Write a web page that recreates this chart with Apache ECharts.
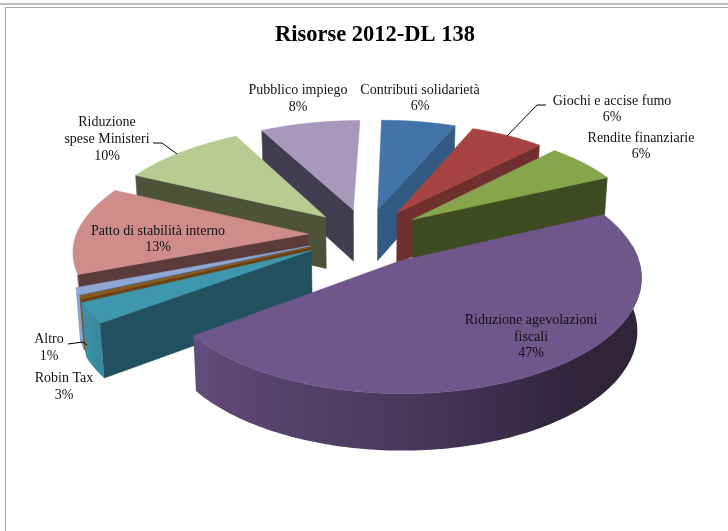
<!DOCTYPE html>
<html>
<head>
<meta charset="utf-8">
<style>html,body{margin:0;padding:0;background:#fff}#chart{width:728px;height:531px}</style>
<script src="https://cdn.jsdelivr.net/npm/echarts@6/dist/echarts.min.js"></script>
</head>
<body>
<div id="chart"></div>
<script>
// Slices run clockwise from twelve o'clock.
const categories = ['Contributi solidarietà', 'Giochi e accise fumo', 'Rendite finanziarie',
  'Riduzione agevolazioni fiscali', 'Robin Tax', '', 'Altro', 'Patto di stabilità interno',
  'Riduzione spese Ministeri', 'Pubblico impiego'];
const shares = [6, 6, 6, 47, 3, 0.4, 1, 13, 10, 8];
const explosions = [0.25, 0.25, 0.25, 0.275, 0.27, 0.26, 0.26, 0.25, 0.25, 0.25];
const topColors = ['#4273a9', '#a54442', '#87a54c', '#6f568b', '#3f97ae', '#8a5a20', '#8ea7d4', '#ce8d8b', '#b7cc93', '#a898bb'];
const wallColors = ['#335a82', '#6f2f2e', '#3e4a20', '#4a3a5e', '#22505f', '#6b3f14', '#4f5f80', '#5b3a3a', '#4d5339', '#423c50'];

// Projection of the tilted pie onto the page.
const view = { cx: 366, cy: 235, rx: 232, ry: 107, perspX: 0.13, perspBack: 0.13, perspFront: 0.135, shearBack: 5, shearFront: 2, depth: 52 };
const total = shares.reduce((a, b) => a + b, 0);

const slices = [];
let running = 0;
shares.forEach((v, i) => {
  const a0 = running / total * 2 * Math.PI;
  running += v;
  const a1 = running / total * 2 * Math.PI;
  slices.push({ i, a0, a1, mid: (a0 + a1) / 2, e: explosions[i] });
});

function project(X, Y, lowered) {
  const sx = 1 / (1 - view.perspX * Y);
  const sy = 1 / (1 - (Y < 0 ? view.perspBack : view.perspFront) * Y);
  const shear = Y < 0 ? view.shearBack : view.shearFront;
  let x = view.cx - shear * Y + view.rx * X * sx;
  let y = view.cy + view.ry * Y * sy;
  if (lowered) {
    x = view.cx + (x - view.cx) * 0.985;
    y += view.depth * Math.sqrt(sy);
  }
  return [x, y];
}

function rimPoint(s, a, lowered) {
  const X = s.e * Math.sin(s.mid) + Math.sin(a);
  const Y = -s.e * Math.cos(s.mid) - Math.cos(a);
  return project(X, Y, lowered);
}

function apexPoint(s, lowered) {
  return project(s.e * Math.sin(s.mid), -s.e * Math.cos(s.mid), lowered);
}

// Brightness of the curved wall depending on which way it faces.
function rimShade(a) {
  const d = a * 180 / Math.PI;
  const stops = [[60, 0.42], [140, 0.42], [180, 0.66], [225, 0.85], [245, 0.97], [300, 0.8], [360, 0.8]];
  for (let i = 1; i < stops.length; i++) {
    if (d <= stops[i][0]) {
      const t = Math.max(0, (d - stops[i - 1][0]) / (stops[i][0] - stops[i - 1][0]));
      return stops[i - 1][1] + t * (stops[i][1] - stops[i - 1][1]);
    }
  }
  return 0.8;
}

function scaleColor(hex, f) {
  const n = parseInt(hex.slice(1), 16);
  const c = [n >> 16 & 255, n >> 8 & 255, n & 255].map(v => Math.round(v * f));
  return 'rgb(' + c.join(',') + ')';
}

function poly(points, color) {
  return {
    type: 'polygon',
    shape: { points },
    style: { fill: color, stroke: color, lineWidth: 0.6 },
    silent: true
  };
}

// A cut face shows only when it turns toward the viewer.
function radialWall(s, a, facing) {
  if (facing < 0.05) return null;
  return poly([apexPoint(s, false), rimPoint(s, a, false), rimPoint(s, a, true), apexPoint(s, true)], wallColors[s.i]);
}

// Curved outer wall: one polygon, shaded left to right; the arc past the
// left-hand side of the pie stays out of sight.
const rimEnd = 250 * Math.PI / 180;
function outerWall(s, steps) {
  const upper = [], lower = [], samples = [];
  for (let k = 0; k <= steps; k++) {
    const a = s.a0 + (s.a1 - s.a0) * k / steps;
    if (Math.cos(a) > 0.15 || a > rimEnd) continue;
    const p = rimPoint(s, a, false);
    upper.push(p);
    lower.unshift(rimPoint(s, a, true));
    samples.push({ x: p[0], a });
  }
  if (upper.length < 2) return null;
  const xs = samples.map(v => v.x);
  const x0 = Math.min(...xs), x1 = Math.max(...xs);
  const colorStops = samples.map(v => ({
    offset: x1 > x0 ? (v.x - x0) / (x1 - x0) : 0,
    color: scaleColor(topColors[s.i], rimShade(v.a))
  })).sort((m, n) => m.offset - n.offset);
  const w = poly(upper.concat(lower), '#000');
  const fill = new echarts.graphic.LinearGradient(x0, 0, x1, 0, colorStops, true);
  w.style.fill = fill;
  w.style.stroke = null;
  w.style.lineWidth = 0;
  return w;
}

function renderSlice(params, api) {
  const s = slices[api.value(0)];
  const children = [];
  [radialWall(s, s.a0, -Math.sin(s.a0)), radialWall(s, s.a1, Math.sin(s.a1))].forEach(w => { if (w) children.push(w); });
  const steps = Math.max(2, Math.ceil((s.a1 - s.a0) / 0.02));
  const rim = outerWall(s, steps);
  if (rim) children.push(rim);
  const top = [apexPoint(s, false)];
  for (let k = 0; k <= steps; k++) top.push(rimPoint(s, s.a0 + (s.a1 - s.a0) * k / steps, false));
  children.push(poly(top, topColors[s.i]));
  return { type: 'group', children };
}

// Far slices first so nearer ones paint over them.
const drawOrder = slices.slice().sort((a, b) => Math.cos(b.mid) - Math.cos(a.mid)).map(s => [s.i, shares[s.i]]);

const labelFont = '"Liberation Serif", "Times New Roman", serif';
function label(x, y, lines) {
  return lines.map((t, n) => ({
    type: 'text', z: 50, x, y: y[n],
    style: { text: t, font: '14px ' + labelFont, fill: '#111', textAlign: 'center', textVerticalAlign: 'middle' }
  }));
}
function leader(points) {
  return { type: 'polyline', z: 50, shape: { points }, style: { stroke: '#000', lineWidth: 1, fill: 'none' } };
}
function frameLine(x1, y1, x2, y2, w) {
  return { type: 'line', z: 40, shape: { x1, y1, x2, y2 }, style: { stroke: '#a6a6a6', lineWidth: w } };
}

const chart = echarts.init(document.getElementById('chart'), null, { renderer: 'canvas' });
chart.setOption({
  animation: false,
  backgroundColor: '#fff',
  title: {
    text: 'Risorse 2012-DL 138', left: 370, top: 19, textAlign: 'center',
    textStyle: { fontFamily: labelFont, fontSize: 22.5, fontWeight: 'bold', color: '#000' }
  },
  series: [{
    type: 'custom',
    coordinateSystem: 'none',
    renderItem: renderSlice,
    data: drawOrder,
    silent: true
  }],
  graphic: [
    frameLine(0, 4, 728, 4, 1.5),
    frameLine(6, 7.5, 728, 7.5, 1),
    frameLine(5.5, 7, 5.5, 531, 1),
    ...label(298, [90, 107], ['Pubblico impiego', '8%']),
    ...label(107, [122, 139, 156], ['Riduzione', 'spese Ministeri', '10%']),
    ...label(158, [231, 247], ['Patto di stabilità interno', '13%']),
    ...label(420, [90, 106], ['Contributi solidarietà', '6%']),
    ...label(612, [101, 117], ['Giochi e accise fumo', '6%']),
    ...label(641, [138, 154], ['Rendite finanziarie', '6%']),
    ...label(531, [320, 337, 353], ['Riduzione agevolazioni', 'fiscali', '47%']),
    ...label(49, [339, 356], ['Altro', '1%']),
    ...label(64, [378, 395], ['Robin Tax', '3%']),
    leader([[153, 143], [162, 143], [177, 154]]),
    leader([[546, 105], [537, 105], [507, 136]]),
    leader([[68, 344], [83, 342], [87, 345]])
  ]
});
</script>
</body>
</html>
